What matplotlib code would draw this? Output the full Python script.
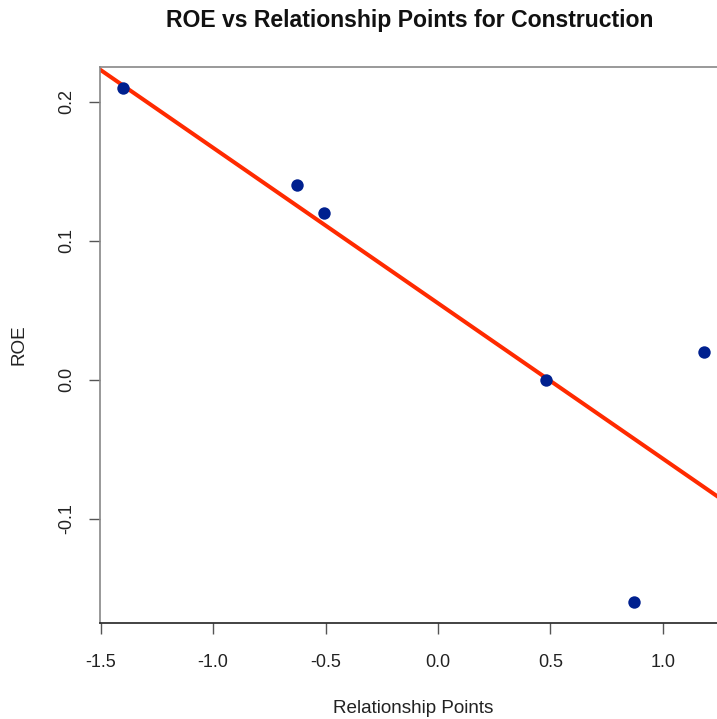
import numpy as np
import matplotlib.pyplot as plt

# ---------------------------------- DATA ----------------------------------- #

rel_points = [-1.40, -0.627, -0.506, 0.483, 0.871, 1.183]  # Relationship Points (scaled)
roe = [0.21, 0.14, 0.12, 0.00, -0.16, 0.02]                 # ROE

x_ticks = [-1.5, -1.0, -0.5, 0.0, 0.5, 1.0]
y_ticks = [-0.1, 0.0, 0.1, 0.2]

# ------------------------------ LINEAR FIT --------------------------------- #

slope, intercept = np.polyfit(rel_points, roe, 1)

# ---------------------------------- PLOT ----------------------------------- #

plt.rcParams['font.family'] = ['Liberation Sans', 'DejaVu Sans']

fig = plt.figure(figsize=(7.17, 7.19), dpi=100)
# R-like plot region; right edge runs a bit past the figure (cropped original)
ax = fig.add_axes([100 / 717, 1 - 623 / 719, 627 / 717, (623 - 67) / 719])

# R default 4% padding on the data range
xr = max(rel_points) - min(rel_points)
yr = max(roe) - min(roe)
ax.set_xlim(min(rel_points) - 0.04 * xr, max(rel_points) + 0.04 * xr)
ax.set_ylim(min(roe) - 0.04 * yr, max(roe) + 0.04 * yr)

ax.scatter(rel_points, roe, s=80, color="#00208f", zorder=3, linewidths=0)
ax.axline((0, intercept), slope=slope, color="#ff2a00", lw=2.9, zorder=2)

ax.set_xticks(x_ticks)
ax.set_xticklabels([f"{v:.1f}" for v in x_ticks])
ax.set_yticks(y_ticks)
ax.set_yticklabels([f"{v:.1f}" for v in y_ticks], rotation=90, va="center")
ax.tick_params(direction="out", length=8, width=1, colors="#555555",
               labelcolor="#222222", labelsize=13)
ax.tick_params(axis="x", pad=14)
ax.tick_params(axis="y", pad=10)

for side in ["top", "left", "right"]:
    ax.spines[side].set_color("#888888")
    ax.spines[side].set_linewidth(1.2)
ax.spines["bottom"].set_color("#222222")
ax.spines["bottom"].set_linewidth(1.2)

ax.set_xlabel("Relationship Points", fontsize=13.6, color="#222222", labelpad=21)
ax.set_ylabel("ROE", fontsize=13.6, color="#222222", labelpad=22)
fig.text(410 / 717, 1 - 20 / 719, "ROE vs Relationship Points for Construction",
         ha="center", va="center", fontsize=16.6, fontweight="bold", color="#111111")

fig.savefig("out.png", dpi=100)
